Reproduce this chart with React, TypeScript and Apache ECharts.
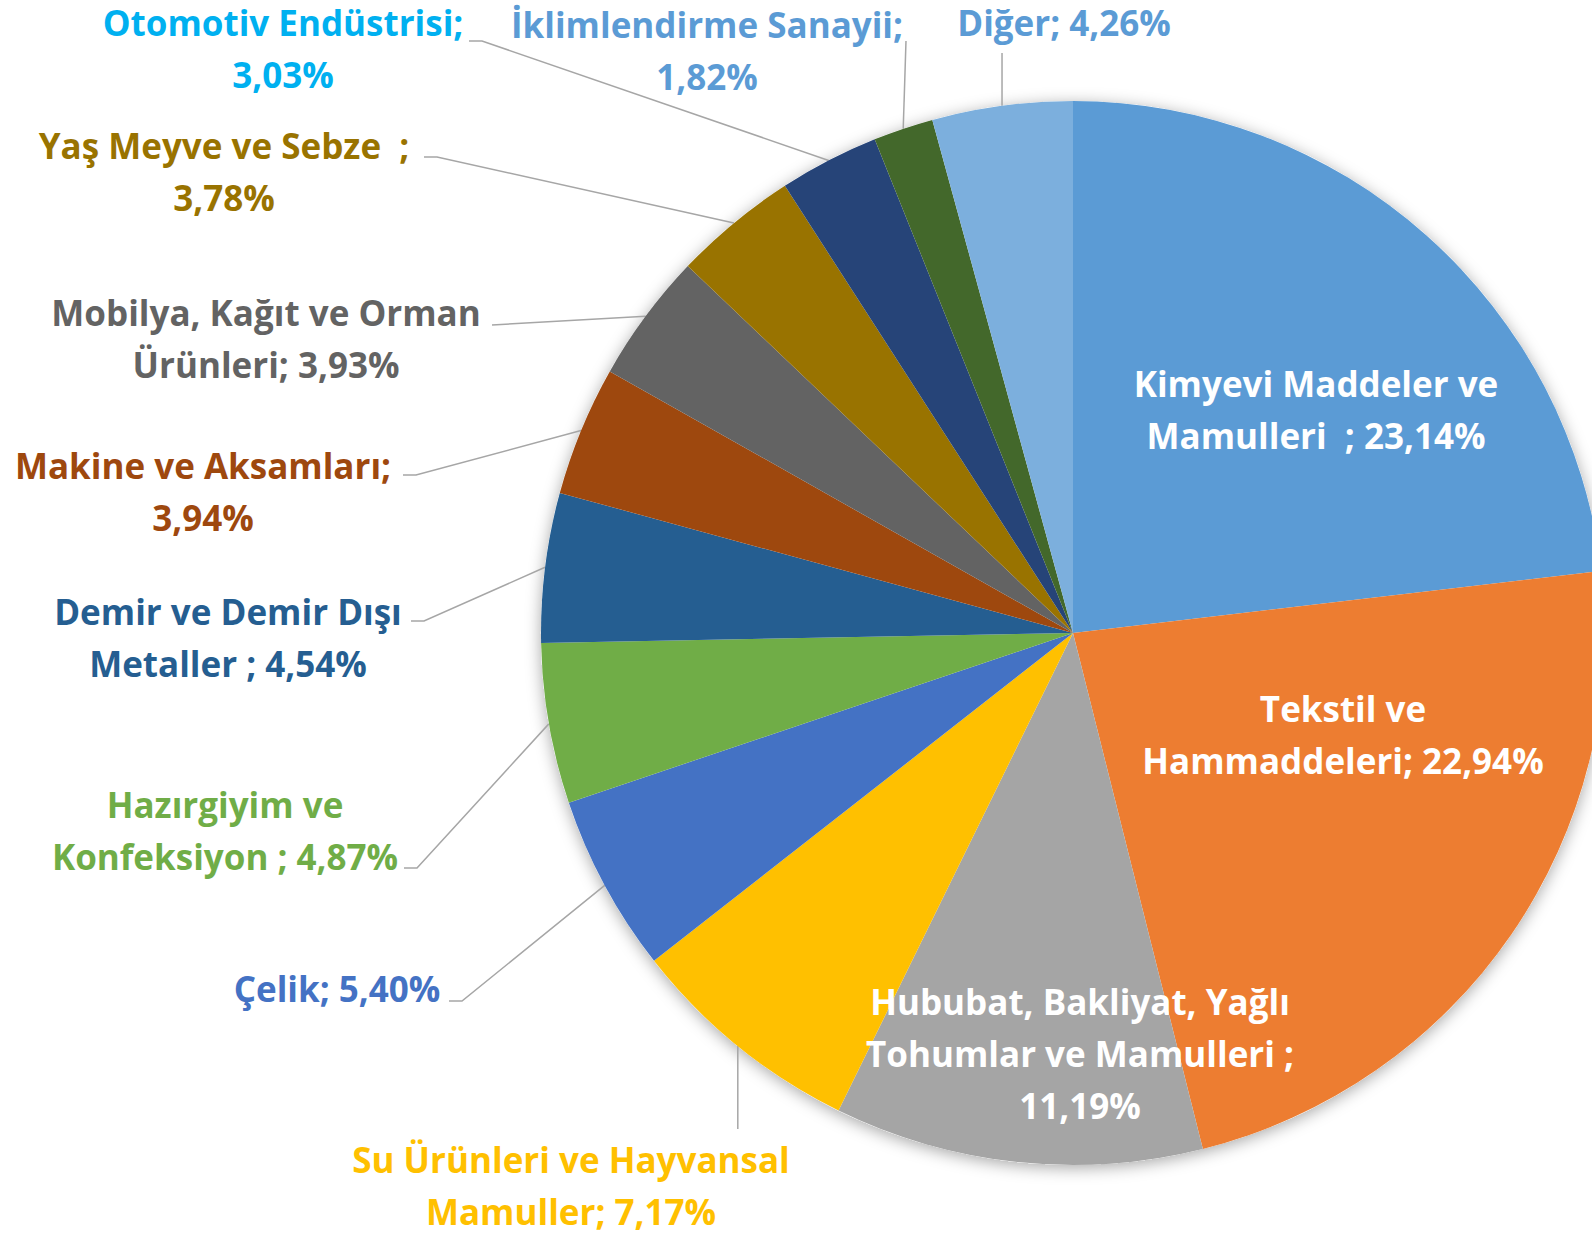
import React, { useEffect, useRef } from "react";
import * as echarts from "echarts";

const CATEGORIES = [
  "Kimyevi Maddeler ve Mamulleri",
  "Tekstil ve Hammaddeleri",
  "Hububat, Bakliyat, Yağlı Tohumlar ve Mamulleri",
  "Su Ürünleri ve Hayvansal Mamuller",
  "Çelik",
  "Hazırgiyim ve Konfeksiyon",
  "Demir ve Demir Dışı Metaller",
  "Makine ve Aksamları",
  "Mobilya, Kağıt ve Orman Ürünleri",
  "Yaş Meyve ve Sebze",
  "Otomotiv Endüstrisi",
  "İklimlendirme Sanayii",
  "Diğer",
];
const VALUES = [23.14, 22.94, 11.19, 7.17, 5.4, 4.87, 4.54, 3.94, 3.93, 3.78, 3.03, 1.82, 4.26];
const LABEL_TEMPLATES = [
  "Kimyevi Maddeler ve\nMamulleri  ; {v}",
  "Tekstil ve\nHammaddeleri; {v}",
  "Hububat, Bakliyat, Yağlı\nTohumlar ve Mamulleri ;\n{v}",
  "Su Ürünleri ve Hayvansal\nMamuller; {v}",
  "Çelik; {v}",
  "Hazırgiyim ve\nKonfeksiyon ; {v}",
  "Demir ve Demir Dışı\nMetaller ; {v}",
  "Makine ve Aksamları;\n{v}",
  "Mobilya, Kağıt ve Orman\nÜrünleri; {v}",
  "Yaş Meyve ve Sebze  ;\n{v}",
  "Otomotiv Endüstrisi;\n{v}",
  "İklimlendirme Sanayii;\n{v}",
  "Diğer; {v}",
];
const SLICE_COLORS = [
  "#5B9BD5", "#ED7D31", "#A5A5A5", "#FFC000", "#4472C4", "#70AD47",
  "#255E91", "#9E480E", "#636363", "#997300", "#264478", "#43682B", "#7CAFDD",
];
const LABEL_COLORS = [
  "#FFFFFF", "#FFFFFF", "#FFFFFF", "#FFC000", "#4472C4", "#70AD47",
  "#255E91", "#9E480E", "#636363", "#997300", "#00B0F0", "#5B9BD5", "#5B9BD5",
];
const LABEL_INSIDE = [true, true, true, false, false, false, false, false, false, false, false, false, false];

// layout: label centres (px) and leader-line ends near the labels
const LABEL_CENTERS: number[][] = [
  [1316, 409], [1343, 734], [1080, 1053], [571, 1185], [337, 988], [225, 830],
  [228, 637], [203, 491], [266, 338], [224, 171], [283, 48], [707, 50], [1064, 22],
];
const LEADER_ENDS: (number[] | null)[] = [
  null, null, null, [-1, 1129], [449, 1001], [404, 868], [411, 621], [403, 475],
  [492, 325], [424, 157], [469, 41], [906, 41], [-1, 53],
];
const LEADER_ELBOW = [false, false, false, false, true, true, true, true, false, true, true, false, false];

const fmt = (v: number) => v.toFixed(2).replace(".", ",") + "%";

export default function App() {
  const ref = useRef<HTMLDivElement>(null);
  useEffect(() => {
    document.body.style.margin = "0";
    const chart = echarts.init(ref.current!, null, { renderer: "svg" });
    const center = [1073, 633];
    const radius = 532;
    const data = CATEGORIES.map((name, i) => ({
      name,
      value: VALUES[i],
      itemStyle: { color: SLICE_COLORS[i] },
      label: {
        position: LABEL_INSIDE[i] ? "inside" : "outside",
        color: LABEL_COLORS[i],
      },
      labelLine: { show: !LABEL_INSIDE[i] },
    }));
    chart.setOption({
      animation: false,
      backgroundColor: "#ffffff",
      series: [
        {
          type: "pie",
          silent: true,
          center,
          radius,
          z: 1,
          label: { show: false },
          labelLine: { show: false },
          itemStyle: {
            color: "#ffffff",
            shadowBlur: 16,
            shadowColor: "rgba(0,0,0,0.35)",
            shadowOffsetY: 3,
          },
          data: [{ value: 1, name: "bg" }],
        },
        {
          type: "pie",
          center,
          radius,
          z: 2,
          startAngle: 90,
          clockwise: true,
          avoidLabelOverlap: false,
          itemStyle: { borderWidth: 0 },
          label: {
            show: true,
            fontFamily: "Open Sans",
            fontWeight: "bold",
            fontSize: 35,
            lineHeight: 52,
            align: "center",
            formatter: (p: any) => LABEL_TEMPLATES[p.dataIndex].replace("{v}", fmt(VALUES[p.dataIndex])),
          },
          labelLine: {
            show: true,
            lineStyle: { color: "#A6A6A6", width: 1.5 },
          },
          labelLayout: (p: any) => {
            const i = p.dataIndex;
            const [x, y] = LABEL_CENTERS[i];
            const out: any = { x, y, align: "center", verticalAlign: "middle" };
            const end = LEADER_ENDS[i];
            if (end && p.labelLinePoints) {
              const p0 = p.labelLinePoints[0];
              const ex = end[0] < 0 ? p0[0] : end[0];
              const ey = end[1];
              if (LEADER_ELBOW[i]) {
                out.labelLinePoints = [p0, [ex + 13, ey], [ex, ey]];
              } else {
                out.labelLinePoints = [p0, [ex, ey], [ex, ey]];
              }
            }
            return out;
          },
          data,
        },
      ],
    });
    return () => chart.dispose();
  }, []);
  return <div ref={ref} style={{ width: 1592, height: 1233 }} />;
}
